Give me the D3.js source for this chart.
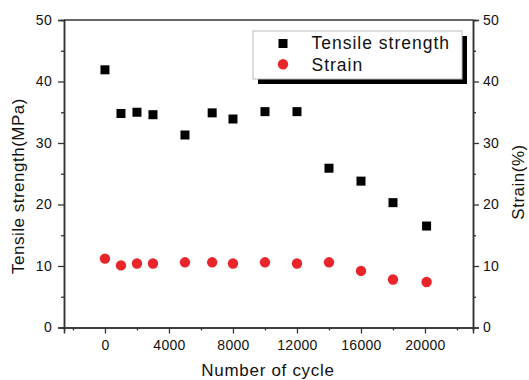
<!DOCTYPE html>
<html>
<head>
<meta charset="utf-8">
<script src="https://cdn.jsdelivr.net/npm/d3@7/dist/d3.min.js"></script>
<style>
  body { margin: 0; background: #fff; }
  svg text { font-family: "Liberation Sans", Arial, sans-serif; fill: #111; }
</style>
</head>
<body>
<svg id="canvas" width="529" height="380"></svg>
<script>
// cycles (x) for each measurement
let cycles = [0, 1000, 2000, 3000, 5000, 6700, 8000, 10000, 12000, 14000, 16000, 18000, 20100]
// tensile strength (MPa), black squares
let tensile = [41.9, 34.8, 35.0, 34.6, 31.3, 34.9, 33.9, 35.1, 35.1, 25.9, 23.8, 20.3, 16.5]
// strain (%), red circles
let strain = [11.2, 10.1, 10.4, 10.4, 10.6, 10.6, 10.4, 10.6, 10.4, 10.6, 9.2, 7.8, 7.4]

let xTicks = [0, 4000, 8000, 12000, 16000, 20000]
let xMinor = [-2000, 2000, 6000, 10000, 14000, 18000, 22000]
let yTicks = [0, 10, 20, 30, 40, 50]
let yMinor = [5, 15, 25, 35, 45]

let plotLeft = 64, plotRight = 473, plotTop = 20, plotBottom = 327.5

let svg = d3.select('#canvas')

let x = d3.scaleLinear().domain([-2560, 23000]).range([plotLeft, plotRight])
let yL = d3.scaleLinear().domain([0, 50]).range([plotBottom, plotTop])
let yR = d3.scaleLinear().domain([0, 50]).range([plotBottom, plotTop])

let styleAxis = (g) => {
    g.select('.domain').attr('stroke', '#333').attr('stroke-width', 1.5)
    g.selectAll('.tick line').attr('stroke', '#333').attr('stroke-width', 1.3)
    g.selectAll('.tick text')
        .attr('fill', '#111')
        .style('font-size', '14px')
        .style('letter-spacing', '0.3px')
        .style('font-family', '"Liberation Sans", Arial, sans-serif')
}

// minor ticks first
svg.append('g').attr('transform', 'translate(0,' + plotBottom + ')')
    .call(d3.axisBottom(x).tickValues(xMinor).tickSize(3).tickFormat(''))
    .call(styleAxis)
svg.append('g').attr('transform', 'translate(' + plotLeft + ',0)')
    .call(d3.axisLeft(yL).tickValues(yMinor).tickSize(3).tickFormat(''))
    .call(styleAxis)
svg.append('g').attr('transform', 'translate(' + plotRight + ',0)')
    .call(d3.axisRight(yR).tickValues(yMinor).tickSize(3).tickFormat(''))
    .call(styleAxis)

// major ticks
svg.append('g').attr('transform', 'translate(0,' + plotBottom + ')')
    .call(d3.axisBottom(x).tickValues(xTicks).tickSize(6).tickPadding(7).tickFormat(d3.format('d')))
    .call(styleAxis)
svg.append('g').attr('transform', 'translate(' + plotLeft + ',0)')
    .call(d3.axisLeft(yL).tickValues(yTicks).tickSize(6).tickPadding(6))
    .call(styleAxis)
svg.append('g').attr('transform', 'translate(' + plotRight + ',0)')
    .call(d3.axisRight(yR).tickValues(yTicks).tickSize(6).tickPadding(4))
    .call(styleAxis)

// top frame line
svg.append('line')
    .attr('x1', plotLeft).attr('x2', plotRight)
    .attr('y1', plotTop).attr('y2', plotTop)
    .attr('stroke', '#333').attr('stroke-width', 1.5)

// axis titles
svg.append('text')
    .attr('x', 268).attr('y', 376)
    .attr('text-anchor', 'middle')
    .style('font-size', '17px').style('letter-spacing', '0.7px')
    .text('Number of cycle')

svg.append('text')
    .attr('transform', 'translate(24,186) rotate(-90)')
    .attr('text-anchor', 'middle')
    .style('font-size', '17px').style('letter-spacing', '0.5px')
    .text('Tensile strength(MPa)')

svg.append('text')
    .attr('transform', 'translate(524,182) rotate(-90)')
    .attr('text-anchor', 'middle')
    .style('font-size', '17px').style('letter-spacing', '0.5px')
    .text('Strain(%)')

// data points
let points = cycles.map((c, i) => ({ c: c, t: tensile[i], s: strain[i] }))

svg.selectAll('.sq')
    .data(points)
    .enter()
    .append('rect')
    .attr('class', 'sq')
    .attr('x', (d) => x(d.c) - 4.5)
    .attr('y', (d) => yL(d.t) - 4.5)
    .attr('width', 9)
    .attr('height', 9)
    .attr('fill', '#000')

svg.selectAll('.dot')
    .data(points)
    .enter()
    .append('circle')
    .attr('class', 'dot')
    .attr('cx', (d) => x(d.c))
    .attr('cy', (d) => yR(d.s))
    .attr('r', 5.2)
    .attr('fill', '#e8262a')

// legend
let legend = svg.append('g')
legend.append('rect')
    .attr('x', 258).attr('y', 36)
    .attr('width', 209).attr('height', 48)
    .attr('fill', '#000')
legend.append('rect')
    .attr('x', 253).attr('y', 31)
    .attr('width', 209).attr('height', 48)
    .attr('fill', '#fff')
    .attr('stroke', '#bbb').attr('stroke-width', 1)
legend.append('rect')
    .attr('x', 278.5).attr('y', 39)
    .attr('width', 9).attr('height', 9)
    .attr('fill', '#000')
legend.append('circle')
    .attr('cx', 283).attr('cy', 64.3)
    .attr('r', 5.2)
    .attr('fill', '#e8262a')
legend.append('text')
    .attr('x', 311.5).attr('y', 49)
    .style('font-size', '17.5px').style('letter-spacing', '1px')
    .text('Tensile strength')
legend.append('text')
    .attr('x', 311.5).attr('y', 70.5)
    .style('font-size', '17.5px').style('letter-spacing', '1px')
    .text('Strain')
</script>
</body>
</html>
